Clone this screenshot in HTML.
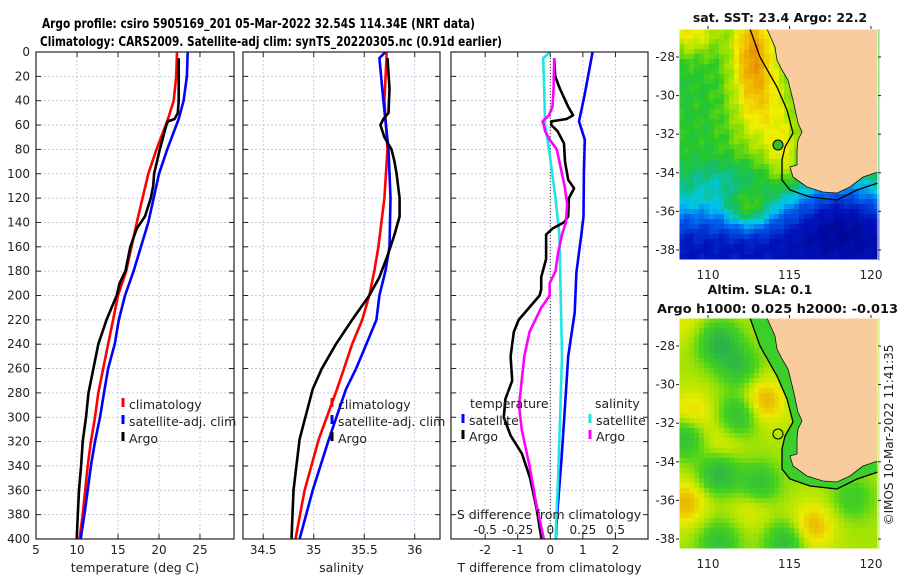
<!DOCTYPE html>
<html><head><meta charset="utf-8"><style>
html,body{margin:0;padding:0;background:#fff}
svg{display:block;font-family:"DejaVu Sans","Liberation Sans",sans-serif}
</style></head><body>
<svg id="fig" width="900" height="580" viewBox="0 0 900 580">
<g font-weight="bold" font-size="13" text-anchor="start">
<text x="42" y="28" textLength="433" lengthAdjust="spacingAndGlyphs">Argo profile: csiro 5905169_201 05-Mar-2022 32.54S 114.34E (NRT data)</text>
<text x="40" y="46" textLength="462" lengthAdjust="spacingAndGlyphs">Climatology: CARS2009. Satellite-adj clim: synTS_20220305.nc (0.91d earlier)</text>
</g>
<g id="charts"></g>
<g id="maps"></g>
<text x="0" y="0" font-size="12" fill="#222" transform="translate(893,435) rotate(-90)" text-anchor="middle">©IMOS 10-Mar-2022 11:41:35</text>
</svg>
<script>
// ---------- data ----------
const tempDepths = [0,20,40,55,80,100,140,180,200,220,240,260,280,300,320,340,360,380,400];
const tempClim   = [22.2,22.1,21.8,21.1,19.7,18.7,17.3,16.0,15.0,14.4,13.8,13.2,12.6,12.2,11.7,11.3,11.0,10.7,10.3];
const tempSat    = [23.5,23.4,23.0,22.4,21.0,20.0,18.7,16.9,15.85,15.1,14.6,13.8,13.3,12.8,12.2,11.7,11.3,10.9,10.45];
const argoDepths = [5,20,40,50,55,57,60,70,80,100,110,120,135,145,160,180,190,200,220,240,260,280,300,320,340,360,380,400];
const argoTemp   = [22.4,22.4,22.4,22.3,21.9,21.1,20.9,20.5,20.1,19.4,19.3,19.0,18.3,17.3,16.5,15.9,15.2,14.84,13.6,12.6,12.0,11.4,11.1,10.7,10.5,10.25,10.1,9.96];
const salDepths  = [0,5,40,80,120,160,180,200,220,240,260,277,318,360,400];
const salClim    = [35.72,35.72,35.70,35.73,35.70,35.64,35.60,35.55,35.48,35.38,35.30,35.23,35.05,34.91,34.82];
const salSat     = [35.71,35.65,35.69,35.74,35.76,35.75,35.71,35.65,35.62,35.52,35.42,35.32,35.15,34.99,34.86];
const argoSDepths= [5,30,50,55,60,65,70,80,90,100,120,135,150,165,185,200,220,240,260,277,318,360,380,400];
const argoSal    = [35.73,35.75,35.74,35.69,35.66,35.68,35.70,35.77,35.80,35.82,35.85,35.85,35.80,35.74,35.65,35.55,35.38,35.22,35.08,34.99,34.86,34.80,34.79,34.78];
const dDepths    = [0,37,57,72,99,135,151,181,214,250,291,332,384,400];
const satTDiff   = [1.3,1.04,0.88,1.06,1.03,1.02,0.95,0.8,0.75,0.55,0.45,0.35,0.2,0.17];
const argoDDepths= [5,20,30,45,52,55,57,60,65,75,90,105,112,120,135,140,145,150,170,185,195,200,220,230,250,270,285,300,315,330,350,375,400];
const argoTDiff  = [0.12,0.15,0.29,0.55,0.7,0.5,0.03,0.03,0.22,0.42,0.45,0.55,0.73,0.57,0.55,0.42,0.07,-0.13,-0.13,-0.28,-0.28,-0.33,-0.97,-1.12,-1.22,-1.17,-1.38,-1.43,-1.22,-0.87,-0.62,-0.42,-0.27];
const satSDiff   = [0,-0.055,-0.045,-0.04,-0.01,0.04,0.07,0.08,0.09,0.075,0.06,0.04];
const satSDepths = [0,5,40,60,80,120,150,200,250,300,350,400];
const argoSDDepths=[5,30,45,52,57,60,65,72,80,95,110,125,140,150,165,180,190,200,210,230,250,270,290,310,320,340,370,400];
const argoSDiff  = [0.03,0.025,0.017,-0.01,-0.06,-0.05,-0.04,-0.005,0.05,0.08,0.11,0.13,0.12,0.09,0.06,0.04,-0.005,-0.005,-0.07,-0.16,-0.2,-0.22,-0.24,-0.22,-0.2,-0.16,-0.11,-0.05];
const depthTicks = [0,20,40,60,80,100,120,140,160,180,200,220,240,260,280,300,320,340,360,380,400];
const tempTicks = [5,10,15,20,25];
const salTicks = [34.5,35,35.5,36];
const tdTicks = [-2,-1,0,1,2];
const sdTicks = [-0.5,-0.25,0,0.25,0.5];
const latTicks = [-28,-30,-32,-34,-36,-38];
const lonTicks = [110,115,120];

const NS='http://www.w3.org/2000/svg';
function mk(tag, attrs, parent){const e=document.createElementNS(NS,tag);for(const k in attrs)e.setAttribute(k,attrs[k]);parent.appendChild(e);return e;}
const charts=document.getElementById('charts');
const Y0=52, Y1=539;
const yD = d => Y0 + (Y1-Y0)*d/400;
const panels=[
 {x0:36,x1:234,lo:5.0,hi:29.15,ticks:tempTicks,label:'temperature (deg C)',name:'temperature-panel'},
 {x0:243,x1:440,lo:34.3,hi:36.25,ticks:salTicks,label:'salinity',name:'salinity-panel'},
 {x0:451,x1:648,lo:-3.05,hi:3.0,ticks:tdTicks,label:'T difference from climatology',name:'difference-panel'}
];
panels.forEach(p=>{p.sx=v=>p.x0+(v-p.lo)/(p.hi-p.lo)*(p.x1-p.x0);});
function poly(p, xs, ds, color, name, sx){
  const f=sx||p.sx;
  const pts=xs.map((v,i)=>f(v).toFixed(1)+','+yD(ds[i]).toFixed(1)).join(' ');
  const e=mk('polyline',{points:pts,fill:'none',stroke:color,'stroke-width':2.6,'stroke-linejoin':'round'},charts);
  
  
}
panels.forEach((p,pi)=>{
  const g=mk('g',{},charts);
  
  
  depthTicks.forEach(d=>{
    mk('line',{x1:p.x0,x2:p.x1,y1:yD(d),y2:yD(d),stroke:'#b8c0dc','stroke-width':0.8,'stroke-dasharray':'2,2'},g);
    mk('line',{x1:p.x0,x2:p.x0+5,y1:yD(d),y2:yD(d),stroke:'#222'},g);
    mk('line',{x1:p.x1,x2:p.x1-5,y1:yD(d),y2:yD(d),stroke:'#222'},g);
    if(pi===0){const t=mk('text',{x:p.x0-6,y:yD(d)+4,'font-size':12,'text-anchor':'end',fill:'#222'},g);t.textContent=d;
      
      }
  });
  p.ticks.forEach(v=>{
    const x=p.sx(v);
    mk('line',{x1:x,x2:x,y1:Y0,y2:Y1,stroke:'#b8c0dc','stroke-width':0.8,'stroke-dasharray':'2,2'},g);
    mk('line',{x1:x,x2:x,y1:Y1,y2:Y1-5,stroke:'#222'},g);
    mk('line',{x1:x,x2:x,y1:Y0,y2:Y0+5,stroke:'#222'},g);
    const t=mk('text',{x:x,y:554,'font-size':12,'text-anchor':'middle',fill:'#222'},g);t.textContent=v;
    
    
  });
  const t=mk('text',{x:(p.x0+p.x1)/2,y:572,'font-size':12.5,'text-anchor':'middle',fill:'#222'},g);t.textContent=p.label;
  
  
});
const P1=panels[0],P2=panels[1],P3=panels[2];
const sdx = v => P3.sx(v*4);
mk('line',{x1:P3.sx(0),x2:P3.sx(0),y1:Y0,y2:Y1,stroke:'#333','stroke-width':1,'stroke-dasharray':'1,2'},charts);
poly(P1,tempClim,tempDepths,'#ff0000','temp-climatology-line');
poly(P1,tempSat,tempDepths,'#0000ff','temp-satellite-line');
poly(P1,argoTemp,argoDepths,'#000','temp-argo-line');
poly(P2,salClim,salDepths,'#ff0000','sal-climatology-line');
poly(P2,salSat,salDepths,'#0000ff','sal-satellite-line');
poly(P2,argoSal,argoSDepths,'#000','sal-argo-line');
poly(P3,satTDiff,dDepths,'#0000ff','tdiff-satellite-line');
poly(P3,satSDiff,satSDepths,'#22e4e4','sdiff-satellite-line',sdx);
poly(P3,argoTDiff,argoDDepths,'#000','tdiff-argo-line');
poly(P3,argoSDiff,argoSDDepths,'#ff00ff','sdiff-argo-line',sdx);
panels.forEach(p=>mk('rect',{x:p.x0,y:Y0,width:p.x1-p.x0,height:Y1-Y0,fill:'none',stroke:'#222','stroke-width':1.2},charts));
{const t=mk('text',{x:549,y:519,'font-size':12.5,'text-anchor':'middle',fill:'#222'},charts);t.textContent='S difference from climatology';
 
 
 sdTicks.forEach(v=>{const tt=mk('text',{x:sdx(v),y:534,'font-size':12,'text-anchor':'middle',fill:'#222'},charts);tt.textContent=v;
 
 });}
function legend(x,y,color,label){
  mk('line',{x1:x,x2:x,y1:y-11,y2:y-2,stroke:color,'stroke-width':3},charts);
  const t=mk('text',{x:x+6,y:y,'font-size':12.5,fill:'#222'},charts);t.textContent=label;
  
  
}
[['#ff0000','climatology'],['#0000ff','satellite-adj. clim'],['#000','Argo']].forEach((e,i)=>{legend(123,409+i*17,e[0],e[1]);legend(332,409+i*17,e[0],e[1]);});
{const t=mk('text',{x:470,y:408,'font-size':12.5,fill:'#222'},charts);t.textContent='temperature';
 
 
 const t2=mk('text',{x:595,y:408,'font-size':12.5,fill:'#222'},charts);t2.textContent='salinity';
 
 }
legend(463,425,'#0000ff','satellite');legend(463,441,'#000','Argo');
legend(590,425,'#22e4e4','satellite');legend(590,441,'#ff00ff','Argo');

// ---------- maps ----------
const maps=document.getElementById('maps');
const MX0=679,MX1=878;
const lonX = lon => 708 + (lon-110)*16.3;
function ramp(stops,v){
  v=Math.max(0,Math.min(1,v));
  for(let i=1;i<stops.length;i++){if(v<=stops[i][0]){const a=stops[i-1],b=stops[i],f=(v-a[0])/(b[0]-a[0]);return 'rgb('+a[1].map((c,k)=>Math.round(c+(b[1][k]-c)*f)).join(',')+')';}}
}
const jetStops=[[0,[0,0,130]],[0.15,[0,20,190]],[0.28,[0,100,240]],[0.38,[0,200,235]],[0.46,[20,190,110]],[0.54,[40,200,40]],[0.62,[150,225,0]],[0.7,[240,240,0]],[0.8,[240,175,0]],[0.9,[220,110,0]],[1,[170,70,10]]];
const slaStops=[[0,[30,160,100]],[0.35,[50,190,60]],[0.55,[70,210,30]],[0.72,[180,230,0]],[0.85,[235,235,0]],[1,[235,175,0]]];
const G=(u,w,cu,cw,su,sw)=>Math.exp(-((u-cu)*(u-cu)/su+(w-cw)*(w-cw)/sw));
const sm=t=>{t=Math.max(0,Math.min(1,t));return t*t*(3-2*t);};
function sst(u,w){
  let v=0.53+0.27*G(u,w,0.36,0.08,0.012,0.05)+0.18*G(u,w,0.05,0.0,0.02,0.01)
   +0.15*G(u,w,0.42,0.35,0.03,0.05)+0.12*G(u,w,0.52,0.55,0.008,0.02)
   -0.1*G(u,w,0.2,0.64,0.05,0.006)
   -0.38*sm((w-0.6)/0.35)+0.2*G(u,w,0.34,0.77,0.012,0.008)-0.2*G(u,w,0.8,0.76,0.06,0.03);
  v+=0.025*Math.sin(u*57+w*31)*Math.cos(w*43-u*17);
  return v;
}
const slaHigh=[[0.41,0.35,1],[0.05,0.41,0.8],[0.02,0.79,0.9],[0.66,0.89,0.9],[0.36,0.8,0.5],[0.2,0.55,0.5],[0.0,0.0,0.4]];
const slaLow=[[0.19,0.1,1],[0.29,0.2,0.7],[0.29,0.41,0.8],[0.02,0.5,0.9],[0.19,0.66,1],[0.39,0.71,0.8],[0.52,0.96,0.8],[0.19,0.96,0.7],[0.86,0.77,0.5]];
function sla(u,w){
  let v=0.7;
  slaHigh.forEach(b=>v+=0.32*b[2]*G(u,w,b[0],b[1],0.012,0.01));
  slaLow.forEach(b=>v-=0.45*b[2]*G(u,w,b[0],b[1],0.01,0.008));
  return v;
}
const coast=[[767,29],[775,47],[777,60],[782,70],[788,80],[793,100],[798,123],[802,132],[798,140],[797,150],[797,165],[790,167],[793,177],[807,187],[823,192],[837,193],[850,187],[863,177],[878,172]];
const iso=[[750,29],[760,57],[777,87],[787,110],[793,133],[785,147],[782,160],[782,180],[790,190],[810,197],[837,200],[857,190],[878,183]];
function drawMap(off,fn,stops,name,titles,strip){
  const g=mk('g',{},maps);
  
  
  const c=5;
  for(let y=29;y<260;y+=c)for(let x=MX0;x<MX1;x+=c){
    const u=(x-MX0)/(MX1-MX0),w=(y-29)/231;
    mk('rect',{x:x,y:y+off,width:c+0.3,height:Math.min(c,260-y)+0.3,fill:ramp(stops,fn(u,w))},g);
  }
  if(strip){
    const pts=coast.map(p=>p.join(',')).join(' ')+' '+iso.slice().reverse().map(p=>p.join(',')).join(' ');
    mk('polygon',{points:pts,fill:strip,transform:'translate(0,'+off+')'},g);
  }
  const land=mk('polygon',{points:coast.map(p=>p.join(',')).join(' ')+' 878,29',fill:'#f8cc9c',stroke:'#111','stroke-width':0.8,transform:'translate(0,'+off+')'},g);
  
  
  mk('polyline',{points:iso.map(p=>p.join(',')).join(' '),fill:'none',stroke:'#000','stroke-width':1.3,transform:'translate(0,'+off+')'},g);
  const dot=mk('circle',{cx:778,cy:145+off,r:5,fill:off?'none':'#30c030',stroke:'#000','stroke-width':1},g);
  
  
  mk('rect',{x:MX0,y:29+off,width:MX1-MX0,height:231,fill:'none',stroke:'#fff','stroke-width':1},g);
  latTicks.forEach(l=>{const y=57+(-28-l)*19.3+off;
    mk('line',{x1:MX0-3,x2:MX0,y1:y,y2:y,stroke:'#222'},g);
    mk('line',{x1:MX1,x2:MX1+3,y1:y,y2:y,stroke:'#222'},g);
    const t=mk('text',{x:MX0-4,y:y+4,'font-size':12,'text-anchor':'end',fill:'#222'},g);t.textContent=l;
    
    });
  lonTicks.forEach(l=>{const x=lonX(l);
    mk('line',{x1:x,x2:x,y1:26+off,y2:29+off,stroke:'#222'},g);
    const t=mk('text',{x:x,y:279+off,'font-size':12,'text-anchor':'middle',fill:'#222'},g);t.textContent=l;
    
    });
  titles.forEach(tt=>{
    const a={x:tt[1],y:tt[2],'font-size':12.5,'font-weight':'bold','text-anchor':tt[3]?'start':'middle',fill:'#111'};
    if(tt[3]){a.textLength=tt[3];a.lengthAdjust='spacingAndGlyphs';}
    const t=mk('text',a,g);t.textContent=tt[0];
    
    });
}
drawMap(0,sst,jetStops,'sst-map',[['sat. SST: 23.4 Argo: 22.2',780,22]],null);
drawMap(289,sla,slaStops,'sla-map',[['Altim. SLA: 0.1',760,294],['Argo h1000: 0.025 h2000: -0.013',657,313,241]],'#3ccf2a');
</script>
</body></html>
